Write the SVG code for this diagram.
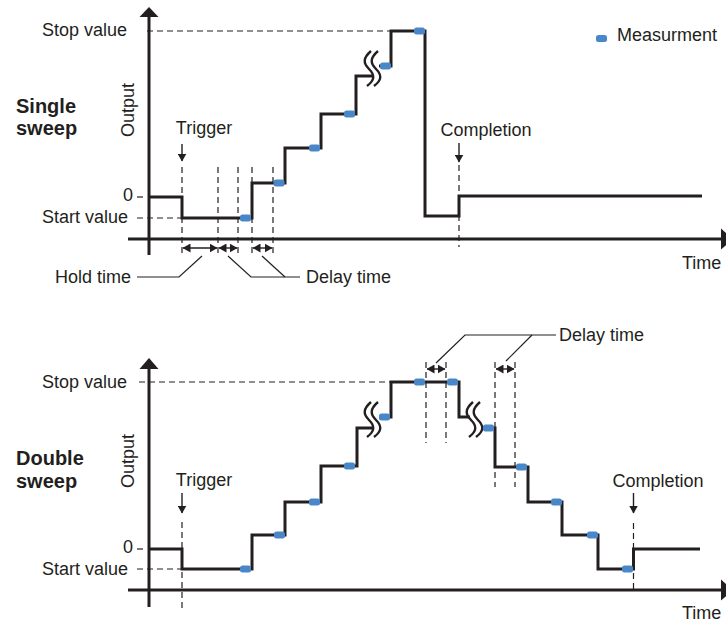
<svg xmlns="http://www.w3.org/2000/svg" width="726" height="622" viewBox="0 0 726 622">
<style>
text{font-family:"Liberation Sans",Arial,sans-serif;fill:#231f20;font-size:18px}
.b{font-weight:bold;font-size:20px}
.ax{stroke:#231f20;stroke-width:3;fill:none}
.st{stroke:#231f20;stroke-width:3;fill:none;stroke-linejoin:miter}
.ds{stroke:#231f20;stroke-width:1.2;fill:none;stroke-dasharray:6 4}
.th{stroke:#231f20;stroke-width:1.2;fill:none}
.ar{stroke:#231f20;stroke-width:1.4;fill:none}
.wv{stroke:#231f20;stroke-width:2.4;fill:none}
.m{fill:#4a87c9}
.tri{fill:#231f20}
</style>
<defs>
<marker id="ah" markerUnits="userSpaceOnUse" markerWidth="8" markerHeight="9" viewBox="0 0 8 9" refX="7.5" refY="4.5" orient="auto-start-reverse">
<path d="M0,0 L8,4.5 L0,9 z" fill="#231f20"/>
</marker>
<rect id="ms" x="-5.5" y="-3.5" width="11" height="7" rx="2.5" class="m"/>
</defs>

<g id="single-sweep">
<g id="s-axes">
<line class="ax" x1="149" y1="15" x2="149" y2="255"/>
<polygon class="tri" points="149,7 158.5,17 139.5,17"/>
<line class="ax" x1="128" y1="239" x2="722" y2="239"/>
<polygon class="tri" points="733,239 721,228.5 721,249.5"/>
</g>
<g id="s-labels">
<text class="b" x="16" y="113">Single</text>
<text class="b" x="16" y="135">sweep</text>
<text transform="translate(134,110) rotate(-90)" text-anchor="middle">Output</text>
<text x="127" y="36" text-anchor="end">Stop value</text>
<text x="133" y="201" text-anchor="end">0</text>
<text x="128" y="223" text-anchor="end">Start value</text>
<text x="204" y="134" text-anchor="middle">Trigger</text>
<text x="486" y="136" text-anchor="middle">Completion</text>
<text x="682" y="269">Time</text>
<text x="131" y="283" text-anchor="end">Hold time</text>
<text x="306" y="283">Delay time</text>
</g>
<g id="s-guides">
<line class="ds" x1="147" y1="31" x2="391" y2="31"/>
<line class="ds" x1="137" y1="197" x2="147" y2="197"/>
<line class="ds" x1="137" y1="218" x2="182" y2="218"/>
<line class="ds" x1="182" y1="167" x2="182" y2="257"/>
<line class="ds" x1="218" y1="167" x2="218" y2="257"/>
<line class="ds" x1="238" y1="167" x2="238" y2="257"/>
<line class="ds" x1="252" y1="167" x2="252" y2="257"/>
<line class="ds" x1="273" y1="167" x2="273" y2="257"/>
<line class="ds" x1="459" y1="165" x2="459" y2="247"/>
</g>
<g id="s-connectors">
<line class="ar" x1="182" y1="144" x2="182" y2="161" marker-end="url(#ah)"/>
<line class="ar" x1="459" y1="143" x2="459" y2="162" marker-end="url(#ah)"/>
<line class="ar" x1="183" y1="248" x2="217" y2="248" marker-start="url(#ah)" marker-end="url(#ah)"/>
<line class="ar" x1="219" y1="248" x2="237" y2="248" marker-start="url(#ah)" marker-end="url(#ah)"/>
<line class="ar" x1="253" y1="248" x2="272" y2="248" marker-start="url(#ah)" marker-end="url(#ah)"/>
<polyline class="th" points="202,256 179,277 137,277"/>
<polyline class="th" points="228,256 251,277 300,277"/>
<line class="th" x1="262" y1="256" x2="285" y2="277"/>
</g>
<g id="s-trace">
<path class="st" d="M149,197 H182 V218 H252 V183 H285 V148 H321 V114 H356 V76 H372"/>
<path class="st" d="M379,66 H391 V31 H425 V216 H459 V196 H702"/>
<path class="wv" d="M371,51 C363,58 363,63 369,69 C375,75 375,80 367,86"/>
<path class="wv" d="M378,51 C370,58 370,63 376,69 C382,75 382,80 374,86"/>
</g>
<g id="s-measurements">
<use href="#ms" x="245.5" y="218"/>
<use href="#ms" x="279" y="183"/>
<use href="#ms" x="314.5" y="148"/>
<use href="#ms" x="349.5" y="114"/>
<use href="#ms" x="385.5" y="66"/>
<use href="#ms" x="419.5" y="31"/>
</g>
</g>

<g id="legend">
<use href="#ms" x="601.5" y="38.5"/>
<text x="617" y="41">Measurment</text>
</g>

<g id="double-sweep">
<g id="d-axes">
<line class="ax" x1="149" y1="366" x2="149" y2="607"/>
<polygon class="tri" points="149,358 158.5,369 139.5,369"/>
<line class="ax" x1="128" y1="590" x2="722" y2="590"/>
<polygon class="tri" points="733,590 721,579.5 721,600.5"/>
</g>
<g id="d-labels">
<text class="b" x="16" y="465">Double</text>
<text class="b" x="16" y="488">sweep</text>
<text transform="translate(134,461) rotate(-90)" text-anchor="middle">Output</text>
<text x="127" y="388" text-anchor="end">Stop value</text>
<text x="133" y="553" text-anchor="end">0</text>
<text x="128" y="575" text-anchor="end">Start value</text>
<text x="204" y="486" text-anchor="middle">Trigger</text>
<text x="658" y="487" text-anchor="middle">Completion</text>
<text x="559" y="341">Delay time</text>
<text x="682" y="619">Time</text>
</g>
<g id="d-guides">
<line class="ds" x1="139" y1="382" x2="391" y2="382"/>
<line class="ds" x1="137" y1="549" x2="147" y2="549"/>
<line class="ds" x1="137" y1="569" x2="182" y2="569"/>
<line class="ds" x1="182" y1="522" x2="182" y2="608"/>
<line class="ds" x1="426" y1="362" x2="426" y2="443"/>
<line class="ds" x1="446" y1="362" x2="446" y2="443"/>
<line class="ds" x1="495" y1="362" x2="495" y2="487"/>
<line class="ds" x1="515" y1="362" x2="515" y2="487"/>
<line class="ds" x1="633.5" y1="523" x2="633.5" y2="593"/>
</g>
<g id="d-connectors">
<line class="ar" x1="182" y1="493" x2="182" y2="513" marker-end="url(#ah)"/>
<line class="ar" x1="633.5" y1="493" x2="633.5" y2="513" marker-end="url(#ah)"/>
<line class="ar" x1="427" y1="369" x2="445" y2="369" marker-start="url(#ah)" marker-end="url(#ah)"/>
<line class="ar" x1="496" y1="369" x2="514" y2="369" marker-start="url(#ah)" marker-end="url(#ah)"/>
<polyline class="th" points="436,363 465,335 556,335"/>
<line class="th" x1="532" y1="335" x2="506" y2="361"/>
</g>
<g id="d-trace">
<path class="st" d="M149,549 H182 V569 H252 V535 H285 V502 H321 V466 H357 V428 H372"/>
<path class="st" d="M379,417 H391 V382 H459 V417 H470"/>
<path class="st" d="M483,428 H495 V467 H528 V502 H562 V535 H598 V569 H633.5 V549 H700"/>
<path class="wv" d="M371,402 C363,409 363,414 369,420 C375,426 375,431 367,437"/>
<path class="wv" d="M378,402 C370,409 370,414 376,420 C382,426 382,431 374,437"/>
<path class="wv" d="M473,402 C465,409 465,414 471,420 C477,426 477,431 469,437"/>
<path class="wv" d="M480,402 C472,409 472,414 478,420 C484,426 484,431 476,437"/>
</g>
<g id="d-measurements">
<use href="#ms" x="245.5" y="569"/>
<use href="#ms" x="279.5" y="535"/>
<use href="#ms" x="314.5" y="502"/>
<use href="#ms" x="349.5" y="466"/>
<use href="#ms" x="384.5" y="417"/>
<use href="#ms" x="419.5" y="382"/>
<use href="#ms" x="452.5" y="382"/>
<use href="#ms" x="488.5" y="428"/>
<use href="#ms" x="521.5" y="467"/>
<use href="#ms" x="556.5" y="502"/>
<use href="#ms" x="592.5" y="535"/>
<use href="#ms" x="627.5" y="569"/>
</g>
</g>
</svg>
